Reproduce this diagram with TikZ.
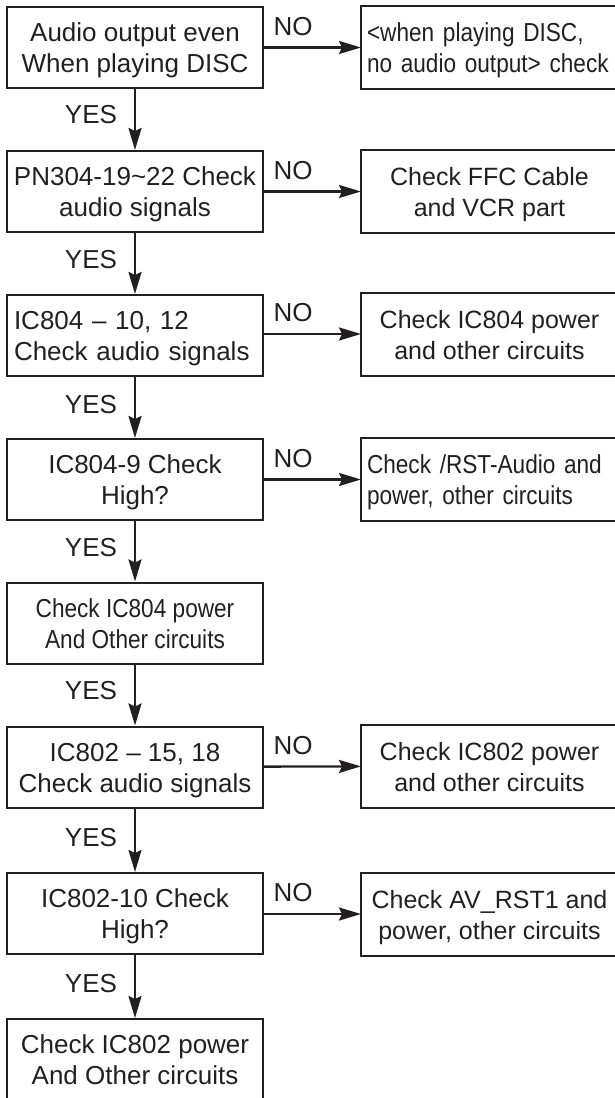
\documentclass[tikz,border=0pt]{standalone}
\usepackage{fontspec}
\setmainfont{Liberation Sans}
\newfontfamily\narrowfont[FakeStretch=0.87]{Liberation Sans}
\usetikzlibrary{arrows.meta}
\definecolor{ink}{HTML}{231F20}
\begin{document}
\begin{tikzpicture}[x=1pt,y=-1pt,
  boxline/.style={draw=ink, line width=2pt},
  box/.style={boxline, minimum width=256pt, minimum height=81pt,
    inner sep=0pt, align=center, text=ink, font=\fontsize{26}{31}\selectfont,
    text height=56pt, text depth=6pt},
  lefttext/.style={text width=#1, align=left, text height=25pt, text depth=37pt},
  rbox/.style={box, draw=none, minimum width=255pt, font=\fontsize{25}{31}\selectfont},
  narrow/.style={font=\narrowfont\fontsize{26}{31}\selectfont},
  lbl/.style={text=ink, inner sep=0pt, font=\fontsize{26}{31}\selectfont},
  arr/.style={draw=ink, line width=2.3pt, -{Stealth[length=22pt,width=13pt,inset=3pt]}},
]
\useasboundingbox (0,0) rectangle (614,1098);

% left column
\node[box] (b1) at (135,47.5) {Audio output even\\When playing DISC};
\node[box] (b2) at (135,191.5) {PN304-19\textasciitilde22 Check\\audio signals};
\node[box, lefttext=242pt] (b3) at (135,335.5) {IC804 -- 10, 12\\Check audio signals};
\node[box] (b4) at (135,479.5) {IC804-9 Check\\High?};
\node[box, narrow] (b5) at (135,623) {Check IC804 power\\And Other circuits};
\node[box] (b6) at (135,767) {IC802 -- 15, 18\\Check audio signals};
\node[box] (b7) at (135,913.5) {IC802-10 Check\\High?};
\node[box] (b8) at (135,1059.5) {Check IC802 power\\And Other circuits};

% right column (frames run past the right edge of the page)
\node[rbox, narrow, lefttext=245pt] (r1) at (489.5,47.5) {<when playing DISC,\\no audio output> check};
\node[rbox] (r2) at (489.5,191.5) {Check FFC Cable\\and VCR part};
\node[rbox] (r3) at (489.5,334) {Check IC804 power\\and other circuits};
\node[rbox, narrow, lefttext=245pt] (r4) at (489.5,479.5) {Check /RST-Audio and\\power, other circuits};
\node[rbox] (r6) at (489.5,766) {Check IC802 power\\and other circuits};
\node[rbox] (r7) at (489.5,914) {Check AV\_RST1 and\\power, other circuits};
\foreach \r in {r1,r2,r3,r4,r6,r7}
  \draw[boxline] (\r.north west) rectangle ([xshift=20pt]\r.south east);

% YES arrows
\draw[arr] (b1) -- (b2) node[lbl, midway, xshift=-44pt, yshift=5pt] {YES};
\draw[arr] (b2) -- (b3) node[lbl, midway, xshift=-44pt, yshift=4pt] {YES};
\draw[arr] (b3) -- (b4) node[lbl, midway, xshift=-44pt, yshift=3pt] {YES};
\draw[arr] (b4) -- (b5) node[lbl, midway, xshift=-44pt, yshift=4pt] {YES};
\draw[arr] (b5) -- (b6) node[lbl, midway, xshift=-44pt, yshift=4pt] {YES};
\draw[arr] (b6) -- (b7) node[lbl, midway, xshift=-44pt, yshift=3pt] {YES};
\draw[arr] (b7) -- (b8) node[lbl, midway, xshift=-44pt, yshift=3pt] {YES};

% NO arrows
\draw[arr] (b1) -- (r1) node[lbl, pos=0.3, yshift=21pt] {NO};
\draw[arr] (b2) -- (r2) node[lbl, pos=0.3, yshift=21pt] {NO};
\draw[arr] (b3.east |- r3) -- (r3) node[lbl, pos=0.3, yshift=21pt] {NO};
\draw[arr] (b4) -- (r4) node[lbl, pos=0.3, yshift=21pt] {NO};
\draw[arr] (b6) -- (r6) node[lbl, pos=0.3, yshift=21pt] {NO};
\draw[arr] (b7.east |- r7) -- (r7) node[lbl, pos=0.3, yshift=21pt] {NO};
\end{tikzpicture}
\end{document}
